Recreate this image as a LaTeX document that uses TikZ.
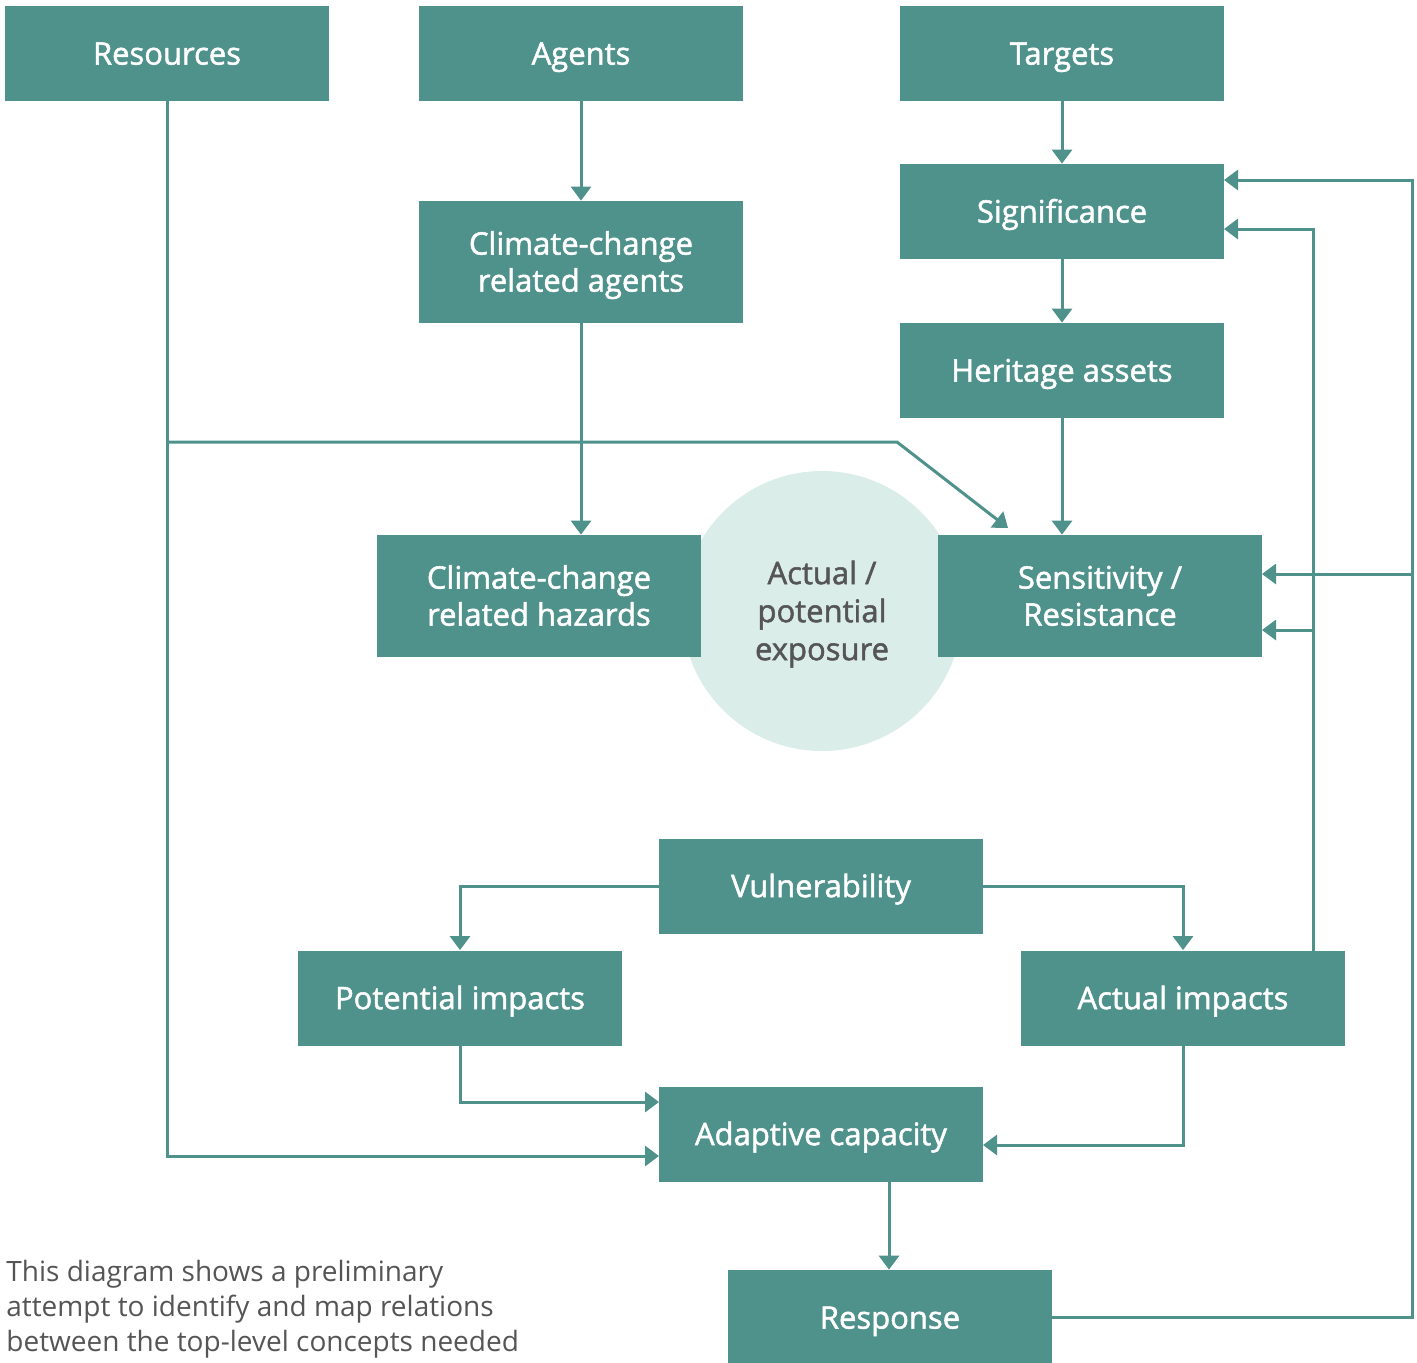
\documentclass[tikz,border=0pt]{standalone}
\usepackage{fontspec}
\setmainfont{Open Sans}
\newfontfamily\boxfont[FakeBold=1.6]{Open Sans}
\usetikzlibrary{arrows.meta}
\definecolor{teal1}{HTML}{4F928C}
\definecolor{mist}{HTML}{DAEDE8}
\definecolor{ink}{HTML}{555555}
\begin{document}
\begin{tikzpicture}[x=0.5pt,y=-0.5pt,
  box/.style={fill=teal1, minimum width=162pt, minimum height=47.5pt, inner sep=0pt,
    text=white, align=center, font=\boxfont\fontsize{15.5}{18.5}\selectfont,
    text height=11.1pt, text depth=0pt},
  tall/.style={box, minimum height=61pt, text height=29.6pt},
  link/.style={draw=teal1, line width=1.5pt, -{Triangle[length=7pt,width=10pt]}},
  wire/.style={draw=teal1, line width=1.5pt}]
\useasboundingbox (0,0) rectangle (1417,1362);

% exposure disc behind the hazard and sensitivity boxes
\node[circle, fill=mist, minimum size=140pt, inner sep=0pt, text=ink, align=center,
  font=\boxfont\fontsize{15.5}{19}\selectfont, text height=49.1pt, text depth=0pt]
  (exp) at (822,611) {Actual /\\potential\\exposure};

% concept boxes
\node[box]  (res)       at (167,53.5)   {Resources};
\node[box]  (agents)    at (581,53.5)   {Agents};
\node[box]  (targets)   at (1062,53.5)  {Targets};
\node[tall] (ccagents)  at (581,262)    {Climate-change\\related agents};
\node[box]  (signif)    at (1062,211.5) {Significance};
\node[box]  (heritage)  at (1062,370.5) {Heritage assets};
\node[tall] (hazards)   at (539,596)    {Climate-change\\related hazards};
\node[tall] (sens)      at (1100,596)   {Sensitivity /\\Resistance};
\node[box]  (vuln)      at (821,886)    {Vulnerability};
\node[box]  (potential) at (460,998)    {Potential impacts};
\node[box]  (actual)    at (1183,998)   {Actual impacts};
\node[box]  (adapt)     at (821,1134)   {Adaptive capacity};
\node[box]  (resp)      at (890,1317.5) {Response};

% caption
\node[anchor=north west, align=left, inner sep=0pt, text=ink,
  font=\fontsize{14}{17.5}\selectfont] (note) at (6,1260)
  {This diagram shows a preliminary\\attempt to identify and map relations\\between the top-level concepts needed};

% junction and entry points
\coordinate (fork)    at (167,442);
\coordinate (bend)    at (897,442);
\coordinate (diagEnd) at (1008,528);
\coordinate (adA)     at (659,1156);
\coordinate (adB)     at (659,1102);
\coordinate (adC)     at (983,1145);
\coordinate (adD)     at (889,1181);
\coordinate (sigA)    at (1224,180);
\coordinate (sigB)    at (1224,229);
\coordinate (senA)    at (1262,574);
\coordinate (senB)    at (1262,630);
\coordinate (loopTop) at (1412,180);
\coordinate (loopMid) at (1412,574);
\coordinate (aiTop)   at (1313,951);
\coordinate (aiBend)  at (1313,229);
\coordinate (aiMid)   at (1313,630);

% vertical chains
\draw[link] (agents) -- (ccagents);
\draw[link] (ccagents.south) -- (ccagents.south |- hazards.north);
\draw[link] (targets) -- (signif);
\draw[link] (signif) -- (heritage);
\draw[link] (heritage.south) -- (heritage.south |- sens.north);

% resources feed
\draw[link] (res.south) |- (adA);
\draw[link] (fork) -- (bend) -- (diagEnd);

% response feedback loop
\draw[link] (resp.east) -| (loopTop) -- (sigA);
\draw[link] (loopMid) -- (senA);

% actual impacts feedback
\draw[link] (aiTop) -- (aiBend) -- (sigB);
\draw[link] (aiMid) -- (senB);

% vulnerability branches
\draw[link] (vuln.west) -| (potential.north);
\draw[link] (vuln.east) -| (actual.north);

% into adaptive capacity and response
\draw[link] (potential.south) |- (adB);
\draw[link] (actual.south) |- (adC);
\draw[link] (adD) -- (adD |- resp.north);
\end{tikzpicture}
\end{document}
